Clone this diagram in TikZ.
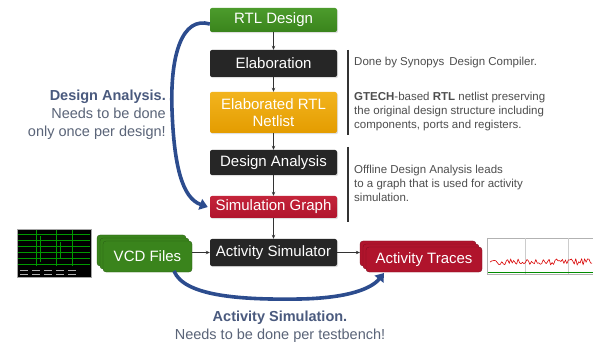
\documentclass[tikz,border=0pt]{standalone}
\usepackage{fontspec}
\setmainfont{Liberation Sans}
\usetikzlibrary{arrows.meta,shadows}
\definecolor{boxgreen}{HTML}{3A841C}
\definecolor{boxgreenT}{HTML}{4C9B2C}
\definecolor{boxdark}{HTML}{262626}
\definecolor{boxorange}{HTML}{E49C00}
\definecolor{boxorangeT}{HTML}{F2B41E}
\definecolor{boxred}{HTML}{B0142C}
\definecolor{boxredT}{HTML}{C4243A}
\definecolor{arcblue}{HTML}{2C4C8E}
\definecolor{titleblue}{HTML}{4A5A7E}
\definecolor{notegray}{HTML}{5A6478}
\definecolor{sidegray}{HTML}{4E4E4E}
\definecolor{conn}{HTML}{333333}
\begin{document}
\begin{tikzpicture}[x=1pt,y=-1pt,
  flowbox/.style={rectangle, rounded corners=2pt, minimum width=127pt, inner sep=0pt,
    text=white, font=\fontsize{15}{16.5}\selectfont, align=center,
    drop shadow={opacity=0.25, shadow xshift=1pt, shadow yshift=-1.2pt}},
  docbox/.style={rectangle, rounded corners=3pt, inner sep=0pt, text=white,
    font=\fontsize{15}{16}\selectfont,
    double copy shadow={shadow xshift=-3pt, shadow yshift=3pt, fill=#1, draw=#1!70!black, opacity=1},
    fill=#1, draw=#1!70!black, line width=0.3pt},
  link/.style={draw=conn, line width=0.9pt, -{Stealth[length=4pt,width=3.5pt]}},
  bigarc/.style={draw=arcblue, line width=3.6pt, -{Triangle[length=8pt,width=11pt]}},
  sidenote/.style={anchor=north west, align=left, text=sidegray, font=\fontsize{11.5}{14}\selectfont, inner sep=0pt},
  sep/.style={draw=conn, line width=1.2pt}
]
\useasboundingbox (0,0) rectangle (593,344);
\fill[white] (0,0) rectangle (593,344);

% main flow boxes
\node[flowbox, minimum height=24pt, top color=boxgreenT, bottom color=boxgreen] (rtl) at (273.5,20) {RTL Design};
\node[flowbox, minimum height=27pt, fill=boxdark] (elab) at (273.5,63.5) {Elaboration};
\node[flowbox, minimum height=41pt, top color=boxorangeT, bottom color=boxorange] (net) at (273.5,112.5) {Elaborated RTL\\Netlist};
\node[flowbox, minimum height=25pt, fill=boxdark] (da) at (273.5,162.5) {Design Analysis};
\node[flowbox, minimum height=22pt, top color=boxredT, bottom color=boxred] (sg) at (273.5,207) {Simulation Graph};
\node[flowbox, minimum height=27pt, fill=boxdark] (as) at (273.5,252.5) {Activity Simulator};

% document stacks
\node[docbox=boxgreen, minimum width=89pt, minimum height=31pt] (vcd) at (147.5,256.5) {VCD Files};
\node[docbox=boxred, minimum width=116pt, minimum height=25pt] (tr) at (424,259.5) {Activity Traces};

% connectors
\draw[link] (rtl) -- (elab);
\draw[link] (elab) -- (net);
\draw[link] (net) -- (da);
\draw[link] (da) -- (sg);
\draw[link] (sg) -- (as);
\draw[link] (vcd.east |- as.west) -- (as.west);
\draw[link] (as.east) -- ([xshift=-6pt]tr.west |- as.east);

% separators and notes
\coordinate (s1a) at (348,50); \coordinate (s1b) at (348,135);
\coordinate (s2a) at (348,147); \coordinate (s2b) at (348,222);
\draw[sep] (s1a) -- (s1b);
\draw[sep] (s2a) -- (s2b);
\node[sidenote] (n1) at (354,57) {Done by Synopys\, Design Compiler.};
\node[sidenote] (n2) at (354,92) {\textbf{GTECH}-based \textbf{RTL} netlist preserving\\the original design structure including\\components, ports and registers.};
\node[sidenote] (n3) at (354,165) {Offline Design Analysis leads\\to a graph that is used for activity\\simulation.};

% left explanation
\node[anchor=east, align=right, inner sep=0pt, font=\fontsize{14.5}{18}\selectfont, text=notegray] (lt) at (166,115)
  {\textcolor{titleblue}{\textbf{Design Analysis.}}\\Needs to be done\ \\only once per design!};
% bottom explanation
\node[align=center, inner sep=0pt, font=\fontsize{14.5}{18}\selectfont, text=notegray] (bt) at (280,327)
  {\textcolor{titleblue}{\textbf{Activity Simulation.}}\\Needs to be done per testbench!};

% big arcs
\coordinate (a1s) at ([yshift=-4pt]rtl.west);
\coordinate (a1m) at (172,110);
\draw[bigarc] (a1s) .. controls (182,16) and (170,55) .. (a1m)
  .. controls (174,165) and (182,198) .. ([xshift=-2pt]sg.west);
\coordinate (a2s) at (174,271);
\coordinate (a2m) at (300,299);
\coordinate (a2e) at (384,273);
\draw[bigarc] (a2s) .. controls (184,296) and (240,300) .. (a2m)
  .. controls (350,298) and (372,288) .. (a2e);

% waveform picture (left)
\node[draw=gray!70, line width=0.6pt, fill=black, minimum width=74pt, minimum height=48pt, inner sep=0pt] (wave) at (54,253) {};
\begin{scope}[green!60!black, line width=0.5pt]
  \foreach \yy in {234,240,246,252,258,264} \draw (18,\yy) -- (90,\yy);
  \foreach \xx in {36,56,72} \draw (\xx,230) -- (\xx,266);
  \draw (40,236) -- (40,262); \draw (60,242) -- (60,258);
\end{scope}
\begin{scope}[gray!60, line width=0.8pt]
  \foreach \xx in {20,32,44,56,68} {\draw (\xx,270) -- (\xx+8,270); \draw (\xx,274) -- (\xx+8,274);}
\end{scope}

% activity chart (right)
\node[draw=gray!60, line width=0.6pt, fill=white, minimum width=106pt, minimum height=36pt, inner sep=0pt] (chart) at (540,256) {};
\draw[gray!40, line width=0.5pt] (525,238) -- (525,274);
\draw[gray!40, line width=0.5pt] (568,238) -- (568,274);
\draw[green!55!black, line width=0.8pt] (488,272) -- (593,272);
\pgfmathsetseed{11}
\draw[red!85!black, line width=0.6pt] plot[domain=490:592, samples=70, smooth] (\x,{262+3.2*rand});
\end{tikzpicture}
\end{document}
